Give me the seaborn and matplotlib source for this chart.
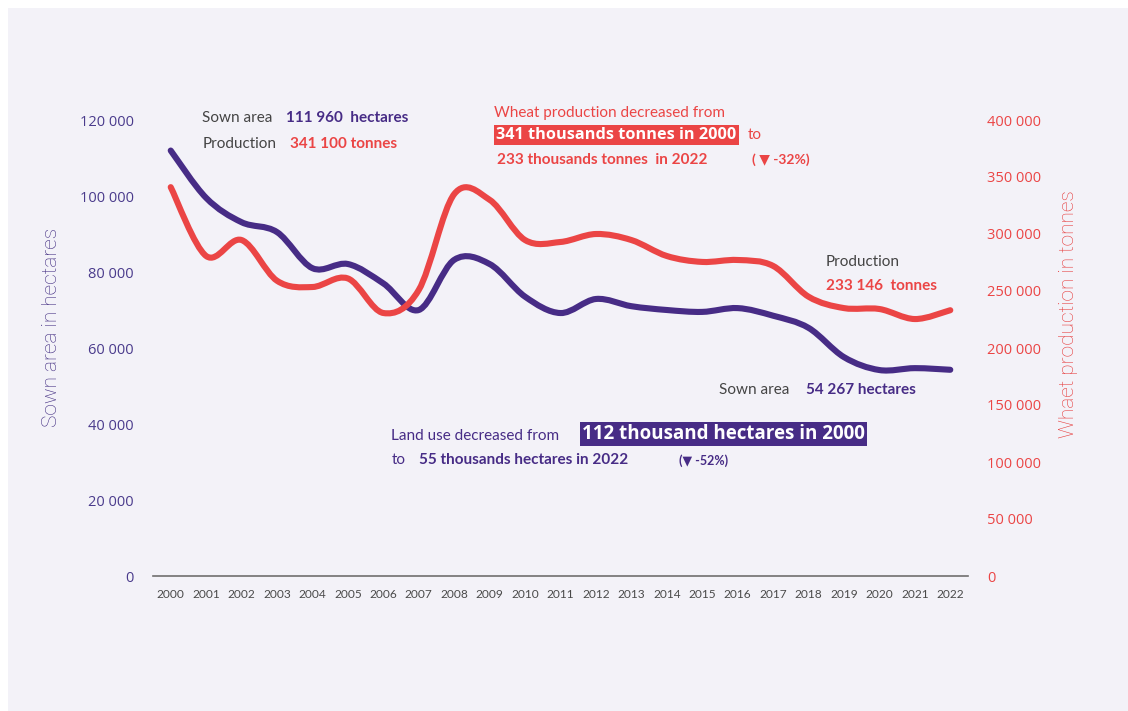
import numpy as np
import pandas as pd
import seaborn as sns
import matplotlib.pyplot as plt
from matplotlib.path import Path
from matplotlib.patches import PathPatch, Rectangle
from matplotlib.ticker import FuncFormatter

# data
years = list(range(2000, 2023))
sown_area = [111960, 99500, 93100, 90500, 81000, 82100, 77000, 70000, 83200, 82100,
             73500, 69200, 72900, 71000, 70000, 69500, 70500, 68500, 65300, 57600,
             54200, 54700, 54267]
production = [341100, 280700, 294700, 259000, 253500, 261000, 230700, 250900, 335000, 330000,
              294700, 293000, 300000, 294700, 280700, 275500, 277200, 272000, 245000, 235000,
              234200, 225400, 233146]
left_ticks = [0, 20000, 40000, 60000, 80000, 100000, 120000]
right_ticks = [0, 50000, 100000, 150000, 200000, 250000, 300000, 350000, 400000]

df = pd.DataFrame({"year": years, "sown": sown_area, "prod": production})

PURPLE = "#472c86"
RED = "#eb4545"
GRAY = "#444444"
BG = "#f3f2f8"

sns.set_theme(style="white")
plt.rcParams["font.family"] = ["Lato", "DejaVu Sans"]

W, H = 1128, 711
fig = plt.figure(figsize=(W / 100, H / 100), dpi=100, facecolor=BG)
# thin white strip along the top and left edges
fig.patches.append(Rectangle((0, 1 - 8 / H), 1, 8 / H, transform=fig.transFigure,
                             facecolor="white", edgecolor="none", zorder=-10))
fig.patches.append(Rectangle((0, 0), 8 / W, 1, transform=fig.transFigure,
                             facecolor="white", edgecolor="none", zorder=-10))

ax = fig.add_axes([153 / W, 1 - 576 / H, (968 - 153) / W, (576 - 120) / H])
ax.set_facecolor("none")
ax2 = ax.twinx()
ax2.set_facecolor("none")


def smooth_line(axis, line):
    # redraw a seaborn line as a smoothed bezier path through the same points
    x = np.asarray(line.get_xdata(), float)
    y = np.asarray(line.get_ydata(), float)
    n = len(x)
    verts = [(x[0], y[0])]
    codes = [Path.MOVETO]
    for i in range(n - 1):
        xa, ya = (x[i - 1], y[i - 1]) if i > 0 else (x[i], y[i])
        xb, yb = (x[i + 2], y[i + 2]) if i + 2 < n else (x[i + 1], y[i + 1])
        c1 = (x[i] + (x[i + 1] - xa) / 6, y[i] + (y[i + 1] - ya) / 6)
        c2 = (x[i + 1] - (xb - x[i]) / 6, y[i + 1] - (yb - y[i]) / 6)
        verts += [c1, c2, (x[i + 1], y[i + 1])]
        codes += [Path.CURVE4] * 3
    axis.add_patch(PathPatch(Path(verts, codes), fill=False, edgecolor=line.get_color(),
                             lw=line.get_linewidth(), capstyle="round", joinstyle="round"))
    line.remove()


sns.lineplot(data=df, x="year", y="sown", ax=ax, color=PURPLE, lw=4.4)
sns.lineplot(data=df, x="year", y="prod", ax=ax2, color=RED, lw=4.4)
smooth_line(ax, ax.lines[0])
smooth_line(ax2, ax2.lines[0])

ax.set_xlim(1999.5, 2022.5)
ax.set_ylim(0, 120000)
ax2.set_ylim(0, 400000)
ax.set_xticks(years)
ax.set_xticklabels([str(y) for y in years], fontsize=8.6, color="#4a4a4a")
ax.set_yticks(left_ticks)
ax2.set_yticks(right_ticks)
fmt = FuncFormatter(lambda v, p: f"{int(v):,}".replace(",", " "))
ax.yaxis.set_major_formatter(fmt)
ax2.yaxis.set_major_formatter(fmt)
for lab in ax.get_yticklabels() + ax2.get_yticklabels():
    lab.set_family(["Open Sans", "DejaVu Sans"])
ax.tick_params(axis="y", length=0, pad=14, labelsize=10.5, labelcolor="#4a3b8c")
ax2.tick_params(axis="y", length=0, pad=14, labelsize=10.5, labelcolor=RED)
ax.tick_params(axis="x", length=0, pad=9)
ax.set_xlabel("")
ax.set_ylabel("")
ax2.set_ylabel("")
for a in (ax, ax2):
    for s in ("top", "left", "right", "bottom"):
        a.spines[s].set_visible(False)
ax.spines["bottom"].set_visible(True)
ax.spines["bottom"].set_color("#6f6f6f")
ax.spines["bottom"].set_linewidth(1.2)

fig.text(52 / W, 1 - 327 / H, "Sown area in hectares", rotation=90, ha="center", va="center",
         fontsize=15, color="#3f2a80", family=["Roboto", "DejaVu Sans"], fontweight="light")
fig.text(1068 / W, 1 - 314 / H, "Whaet production in tonnes", rotation=90, ha="center",
         va="center", fontsize=15, color="#e63a3a", family=["Roboto", "DejaVu Sans"],
         fontweight="light")


def put(x, y, s, color, size=11, weight="normal", **kw):
    fig.text(x / W, 1 - y / H, s, color=color, fontsize=size, fontweight=weight,
             ha="left", va="center", **kw)


# top-left start values
put(202, 118, "Sown area", GRAY)
put(286, 118, "111 960  hectares", PURPLE, weight="bold")
put(203, 144, "Production", GRAY)
put(290, 144, "341 100 tonnes", RED, weight="bold")

# production summary
put(494, 113, "Wheat production decreased from", RED)
put(496, 135, "341 thousands tonnes in 2000", "white", size=11.7, weight="bold",
    family=["Open Sans", "DejaVu Sans"],
    bbox=dict(boxstyle="square,pad=0.15", facecolor=RED, edgecolor="none"))
put(748, 135, "to", RED)
put(497, 160, "233 thousands tonnes  in 2022", RED, weight="bold")
put(752, 160, "( \u25bc -32%)", RED, size=10, weight="bold")

# end values
put(826, 262, "Production", GRAY)
put(826, 286, "233 146  tonnes", RED, weight="bold")
put(719, 390, "Sown area", GRAY)
put(806, 390, "54 267 hectares", PURPLE, weight="bold")

# land use summary
put(391, 436, "Land use decreased from", PURPLE)
put(582, 434, "112 thousand hectares in 2000", "white", size=13.5, weight="bold",
    family=["Open Sans", "DejaVu Sans"],
    bbox=dict(boxstyle="square,pad=0.12", facecolor=PURPLE, edgecolor="none"))
put(392, 460, "to", PURPLE)
put(419, 460, "55 thousands hectares in 2022", PURPLE, weight="bold")
put(679, 461, "(\u25bc -52%)", PURPLE, size=9, weight="bold")

fig.savefig("out.png", dpi=100, facecolor=BG)
